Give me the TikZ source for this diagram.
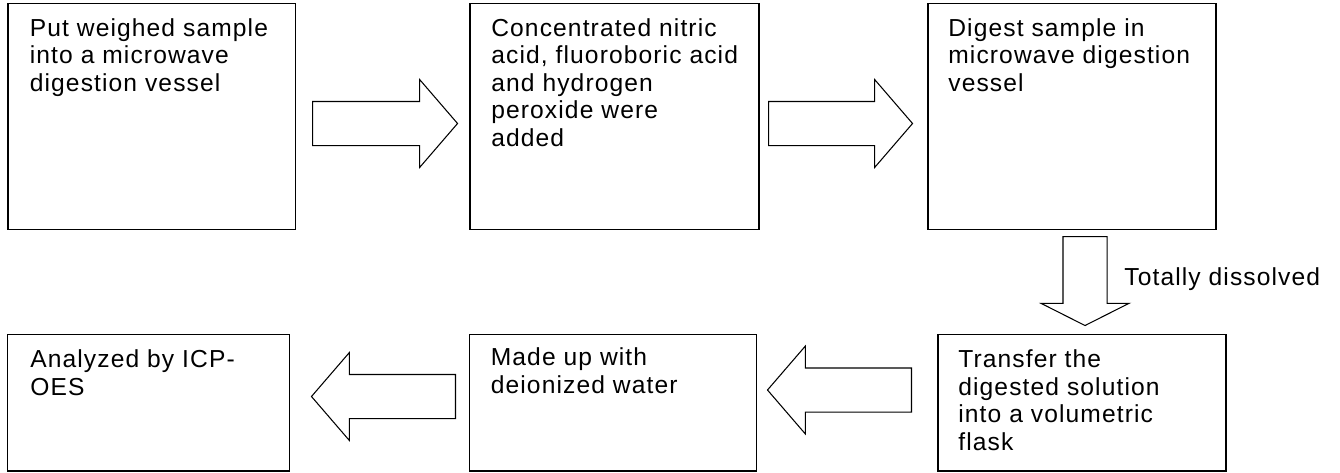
\documentclass[tikz,border=0pt]{standalone}
\usepackage{fontspec}
\setmainfont{Liberation Sans}[LetterSpace=4.5]
\usetikzlibrary{shapes.arrows}

\tikzset{
  stepbox/.style={draw=black, line width=0.85pt, rectangle, inner sep=0pt, anchor=north west},
  steptext/.style={anchor=north west, align=left, inner sep=0pt,
    font=\fontsize{14}{15.7}\selectfont},
  blockarrow/.style={draw=black, line width=0.6pt, single arrow, inner xsep=0pt,
    inner ysep=0.43cm, single arrow head extend=0.44cm,
    single arrow tip angle=98.5, anchor=tail}
}

\begin{document}
\begin{tikzpicture}

\useasboundingbox (0,0) rectangle (26.8,-9.44);

% upper row
\node[stepbox, minimum width=5.75cm, minimum height=4.53cm] (b1) at (0.15,-0.05) {};
\node[stepbox, minimum width=5.78cm, minimum height=4.53cm] (b2) at (9.38,-0.05) {};
\node[stepbox, minimum width=5.76cm, minimum height=4.53cm] (b3) at (18.54,-0.05) {};

% lower row
\node[stepbox, minimum width=5.64cm, minimum height=2.72cm] (b4) at (0.14,-6.68) {};
\node[stepbox, minimum width=5.74cm, minimum height=2.72cm] (b5) at (9.37,-6.68) {};
\node[stepbox, minimum width=5.76cm, minimum height=2.72cm] (b6) at (18.74,-6.68) {};

\node[steptext] (t1) at ([shift={(0.44,-0.31)}]b1.north west)
  {Put weighed sample\\into a microwave\\digestion vessel};
\node[steptext] (t2) at ([shift={(0.44,-0.31)}]b2.north west)
  {Concentrated nitric\\acid, fluoroboric acid\\and hydrogen\\peroxide were\\added};
\node[steptext] (t3) at ([shift={(0.42,-0.31)}]b3.north west)
  {Digest sample in\\microwave digestion\\vessel};
\node[steptext] (t4) at ([shift={(0.46,-0.31)}]b4.north west)
  {Analyzed by ICP-\\OES};
\node[steptext] (t5) at ([shift={(0.44,-0.27)}]b5.north west)
  {Made up with\\deionized water};
\node[steptext] (t6) at ([shift={(0.42,-0.31)}]b6.north west)
  {Transfer the\\digested solution\\into a volumetric\\flask};

% block arrows
\node[blockarrow, minimum height=2.90cm] (a1) at (6.24,-2.47) {};
\node[blockarrow, minimum height=2.88cm] (a2) at (15.36,-2.47) {};
\node[blockarrow, minimum height=1.78cm, shape border rotate=270,
  inner xsep=0.43cm, inner ysep=0pt, single arrow tip angle=126.4] (a3) at (21.70,-4.72) {};
\node[blockarrow, minimum height=2.88cm, shape border rotate=180] (a4) at (18.24,-7.80) {};
\node[blockarrow, minimum height=2.88cm, shape border rotate=180] (a5) at (9.12,-7.93) {};

\node[steptext, anchor=base west] (lbl) at (22.48,-5.70) {Totally dissolved};

\end{tikzpicture}
\end{document}
